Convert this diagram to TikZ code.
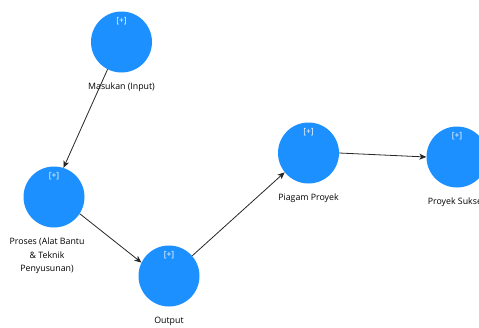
\documentclass[tikz,border=0pt]{standalone}
\usepackage{fontspec}
\setmainfont{Open Sans}
\usetikzlibrary{arrows.meta}
\usetikzlibrary{positioning}
\definecolor{nodeblue}{RGB}{28,144,255}

\begin{document}
\begin{tikzpicture}[x=1pt,y=-1pt,>={Stealth[length=7pt,width=6pt,inset=2pt]},
  topic/.style={circle,fill=nodeblue,draw=none,minimum size=61pt,inner sep=0pt},
  plus/.style={text=white,font=\fontsize{8.5}{9}\selectfont,anchor=north,yshift=-3pt},
  caption/.style={font=\fontsize{8.8}{13.5}\selectfont,align=center,inner sep=0pt}]

  \path[use as bounding box,clip] (0,0) rectangle (479,327);

  \node[topic,label={[plus,name=m+]north:[+]}] (m) at (121.5,42) {};
  \node[topic,label={[plus,name=p+]north:[+]}] (p) at (54,197) {};
  \node[topic,label={[plus,name=o+]north:[+]}] (o) at (169,276) {};
  \node[topic,label={[plus,name=g+]north:[+]}] (g) at (308.5,153) {};
  \node[topic,label={[plus,name=s+]north:[+]}] (s) at (457,157) {};

  \node[caption,below=10pt of m] (mtxt) {Masukan (Input)};
  \node[caption,below=10pt of p,xshift=-7pt] (ptxt) {Proses (Alat Bantu\\ \& Teknik\\ Penyusunan)};
  \node[caption,below=10pt of o] (otxt) {Output};
  \node[caption,below=10pt of g] (gtxt) {Piagam Proyek};
  \node[caption,below=10pt of s] (stxt) {Proyek Sukses};

  \path[every edge/.style={draw=black!85,line width=0.8pt,->}]
    (m.243) edge (p.72)
    (p.-33) edge (o.154)
    (o.41) edge (g.219)
    (g.0) edge (s.180);
\end{tikzpicture}
\end{document}
